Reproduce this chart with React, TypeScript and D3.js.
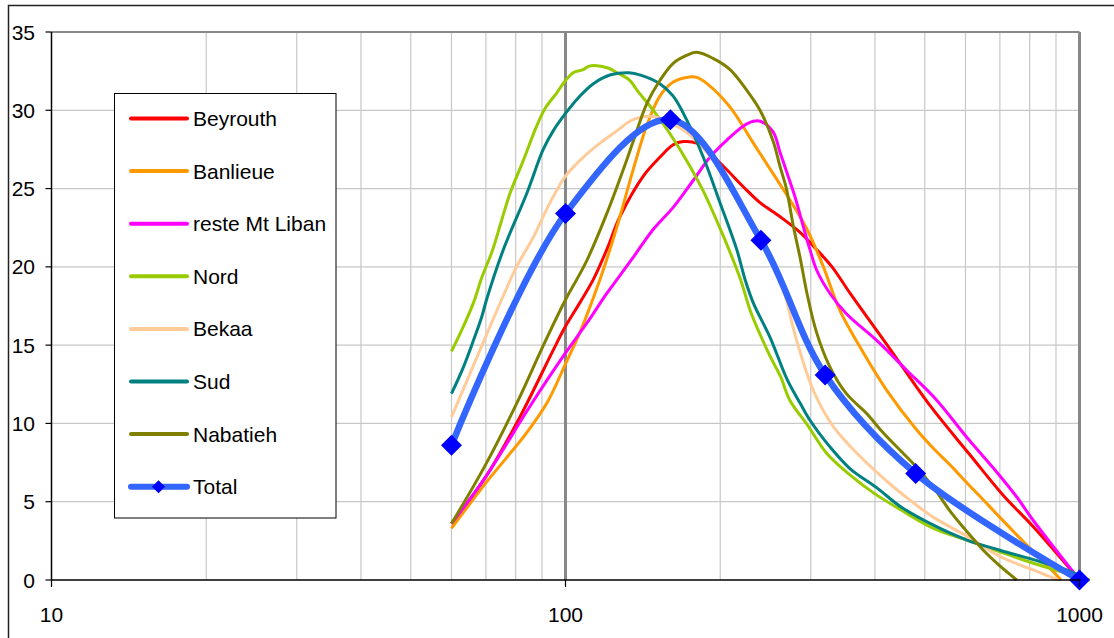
import React from 'react';
import * as d3 from 'd3';

type Pt = [number, number];

const seriesNames = ['Beyrouth', 'Banlieue', 'reste Mt Liban', 'Nord', 'Bekaa', 'Sud', 'Nabatieh'];
const seriesColors = ['#FF0000', '#FF9900', '#FF00FF', '#99CC00', '#FFCC99', '#008080', '#808000'];

const beyrouth: Pt[] = [[60,3.6],[70,6.6],[81.5,10.4],[94.7,14.7],[100,16.2],[106.6,17.7],[113.3,19.2],[120.3,21.1],[127.6,23.2],[141.7,25.8],[152.6,27.0],[162,27.8],[169.5,28.0],[180,27.9],[191,27.25],[206,26.2],[222,25.1],[239,24.1],[261.5,23.2],[286,22.2],[308,21.1],[330,20.0],[358,18.3],[429,14.7],[513,11.1],[612,8.0],[711,5.4],[813,3.4],[1000,0]];
const banlieue: Pt[] = [[60,3.3],[70,6.2],[84,9.4],[92,11.3],[100,13.8],[106.6,15.8],[116.7,19.2],[122,21.1],[127.6,23.2],[135.4,26.2],[143.8,29.0],[152.6,30.9],[162,31.8],[172,32.1],[180,32.1],[188.5,31.7],[209,30.2],[232,27.9],[257.5,25.6],[273,24.3],[295,22.4],[317.5,20.0],[342,17.2],[380,14.5],[422,12.1],[482,9.6],[520,8.4],[560,7.35],[604,6.2],[640,5.35],[700,4.0],[813,1.8],[903,0.3],[920,0]];
const resteMtLiban: Pt[] = [[60,3.6],[70,6.6],[85.3,11.1],[100,14.5],[110,16.4],[120.3,18.3],[126,19.2],[135.4,20.6],[148.2,22.4],[162,23.8],[177,25.5],[191,27.0],[206,28.1],[222,29.0],[232,29.3],[239.5,29.3],[253.6,28.6],[261.5,27.3],[273,25.5],[280,24.4],[290,22.6],[299,21.1],[308,19.8],[327,18.3],[352,17.0],[403,15.3],[461,13.4],[527,11.5],[604,9.1],[690,6.9],[755,5.3],[813,3.8],[1000,0]];
const nord: Pt[] = [[60,14.6],[63.3,16.2],[66.2,17.7],[68.7,19.3],[72,21.0],[75,22.9],[78,24.7],[82.8,26.8],[87.9,29.0],[91.2,30.1],[96.1,31.1],[100,31.9],[103.5,32.4],[108.3,32.6],[110.8,32.8],[115,32.85],[121,32.7],[126,32.4],[133.5,31.9],[137.6,31.3],[148.2,30.0],[159.7,28.5],[172,26.8],[185,24.9],[199,22.6],[208,21.1],[219,19.2],[230,17.0],[250,14.3],[262,13.0],[273,11.5],[297,9.8],[322,8.1],[358,6.7],[400,5.5],[448,4.5],[520,3.3],[604,2.55],[700,1.8],[813,1.07],[944,0.43],[1048,0]];
const bekaa: Pt[] = [[60,10.4],[68.2,14.7],[75.1,17.9],[80.3,20.0],[86.6,21.9],[93.3,24.1],[100,25.8],[108.3,27.0],[116.7,27.9],[126,28.7],[133.4,29.3],[140,29.55],[148.2,29.6],[160,29.2],[172,28.6],[185,27.6],[200,26.2],[215,24.5],[232,22.5],[250,20.5],[265.5,18.5],[281.6,15.3],[303.6,12.1],[332,9.8],[374,7.9],[429,6.1],[468,5.1],[520,4.0],[604,2.8],[700,1.5],[813,0.64],[910,0]];
const sud: Pt[] = [[60,11.9],[63.3,13.6],[66.2,15.3],[68.7,16.8],[70.2,17.9],[75.7,21.1],[84.1,24.7],[90.5,27.5],[94.7,28.7],[100,29.8],[106.6,30.9],[113.3,31.7],[122,32.25],[133,32.4],[140,32.25],[152.6,31.7],[162,30.9],[172,29.4],[185.4,27.0],[199.8,24.1],[215.4,21.1],[223.5,19.2],[231.9,17.7],[250,15.5],[270,12.8],[286,11.3],[299,10.2],[327,8.5],[358,7.1],[403,5.9],[448,4.7],[520,3.5],[604,2.55],[700,1.9],[813,1.3],[944,0.64],[1000,0.26]];
const nabatieh: Pt[] = [[60,3.6],[70,7.4],[81.5,11.7],[90,14.8],[100,17.9],[105.2,19.2],[110,20.4],[120.3,23.4],[129.5,26.2],[135.4,28.0],[143.8,30.4],[152.6,31.9],[162,33.0],[172,33.5],[180,33.7],[194,33.3],[209,32.6],[225,31.3],[239,30.0],[253.6,28.0],[261.5,26.4],[269,25.0],[277.5,22.6],[286,20.6],[295,18.3],[308,15.8],[327,13.6],[352,11.9],[385,10.65],[415,9.4],[482,7.2],[520,5.9],[560,4.4],[600,3.2],[650,1.9],[700,0.9],[755,0]];

const totalX = [60, 100, 160, 240, 320, 480, 1000];
const totalY = [8.6, 23.4, 29.4, 21.7, 13.1, 6.8, 0];

const xTicks = [10, 100, 1000];
const xMinorGrid = [20, 30, 40, 50, 60, 70, 80, 90, 200, 300, 400, 500, 600, 700, 800, 900];
const yTicks = [0, 5, 10, 15, 20, 25, 30, 35];

const FONT = "'Liberation Sans', Arial, sans-serif";

export default function App() {
  const x = d3.scaleLog().domain([10, 1000]).range([51.5, 1079.5]);
  const y = d3.scaleLinear().domain([0, 35]).range([580, 32]);
  const line = d3.line<Pt>().x(d => x(d[0])).y(d => y(d[1])).curve(d3.curveCatmullRom.alpha(0.5));
  const series = [beyrouth, banlieue, resteMtLiban, nord, bekaa, sud, nabatieh];
  const total: Pt[] = totalX.map((v, i) => [v, totalY[i]]);
  const diamond = (cx: number, cy: number, r: number) => `M${cx},${cy - r}L${cx + r},${cy}L${cx},${cy + r}L${cx - r},${cy}Z`;

  const legendItems = [...seriesNames, 'Total'];
  const legendColors = [...seriesColors, '#3366FF'];
  const legY = (i: number) => 118.5 + i * 52.6;

  return (
    <svg width={1114} height={638} style={{ position: 'absolute', left: 0, top: 0, background: '#fff' }} fontFamily={FONT}>
      <rect x={0} y={0} width={1114} height={638} fill="#fff" />
      <path d="M8.5,650V5.5H1130" fill="none" stroke="#222" strokeWidth={1.5} />
      {yTicks.filter(t => t > 0 && t < 35).map(t => (
        <line key={'h' + t} x1={x(10)} x2={x(1000)} y1={y(t)} y2={y(t)} stroke="#c8c8c8" strokeWidth={1.2} />
      ))}
      {xMinorGrid.map(t => (
        <line key={'v' + t} x1={x(t)} x2={x(t)} y1={y(35)} y2={y(0)} stroke="#c8c8c8" strokeWidth={1.2} />
      ))}
      {xTicks.filter(t => t > 10).map(t => (
        <line key={'V' + t} x1={x(t)} x2={x(t)} y1={y(35)} y2={y(0)} stroke="#888" strokeWidth={3} />
      ))}
      <line x1={x(10)} x2={x(1000)} y1={y(35)} y2={y(35)} stroke="#888" strokeWidth={2} />
      {series.map((s, i) => (
        <path key={seriesNames[i]} d={line(s) || ''} fill="none" stroke={seriesColors[i]} strokeWidth={3} strokeLinejoin="round" />
      ))}
      <path d={line(total) || ''} fill="none" stroke="#3366FF" strokeWidth={6.5} strokeLinejoin="round" />
      {total.map((d, i) => (
        <path key={'m' + i} d={diamond(x(d[0]), y(d[1]), 10.5)} fill="#0000FF" />
      ))}
      <line x1={x(10)} x2={x(10)} y1={y(35)} y2={y(0)} stroke="#000" strokeWidth={1.5} />
      <line x1={x(10)} x2={x(1000) + 1} y1={y(0)} y2={y(0)} stroke="#000" strokeWidth={1.5} />
      {yTicks.map(t => (
        <g key={'yt' + t}>
          <line x1={x(10) - 6} x2={x(10)} y1={y(t)} y2={y(t)} stroke="#000" strokeWidth={1.2} />
          <text x={35} y={y(t)} dy="0.36em" textAnchor="end" fontSize={21} fill="#000">{t}</text>
        </g>
      ))}
      {xTicks.map(t => (
        <g key={'xt' + t}>
          <line x1={x(t)} x2={x(t)} y1={y(0)} y2={y(0) + 7} stroke="#000" strokeWidth={1.2} />
          <text x={x(t)} y={622} textAnchor="middle" fontSize={21} fill="#000">{t}</text>
        </g>
      ))}
      <rect x={114.5} y={93.5} width={221.5} height={424.5} fill="#fff" stroke="#000" strokeWidth={1} />
      {legendItems.map((name, i) => (
        <g key={'lg' + name}>
          <line x1={131} x2={187} y1={legY(i)} y2={legY(i)} stroke={legendColors[i]} strokeWidth={i === 7 ? 6 : 4} strokeLinecap="round" />
          {i === 7 && <path d={diamond(158.5, legY(i), 6.5)} fill="#0000FF" />}
          <text x={193} y={legY(i)} dy="0.36em" fontSize={21} fill="#000">{name}</text>
        </g>
      ))}
    </svg>
  );
}
